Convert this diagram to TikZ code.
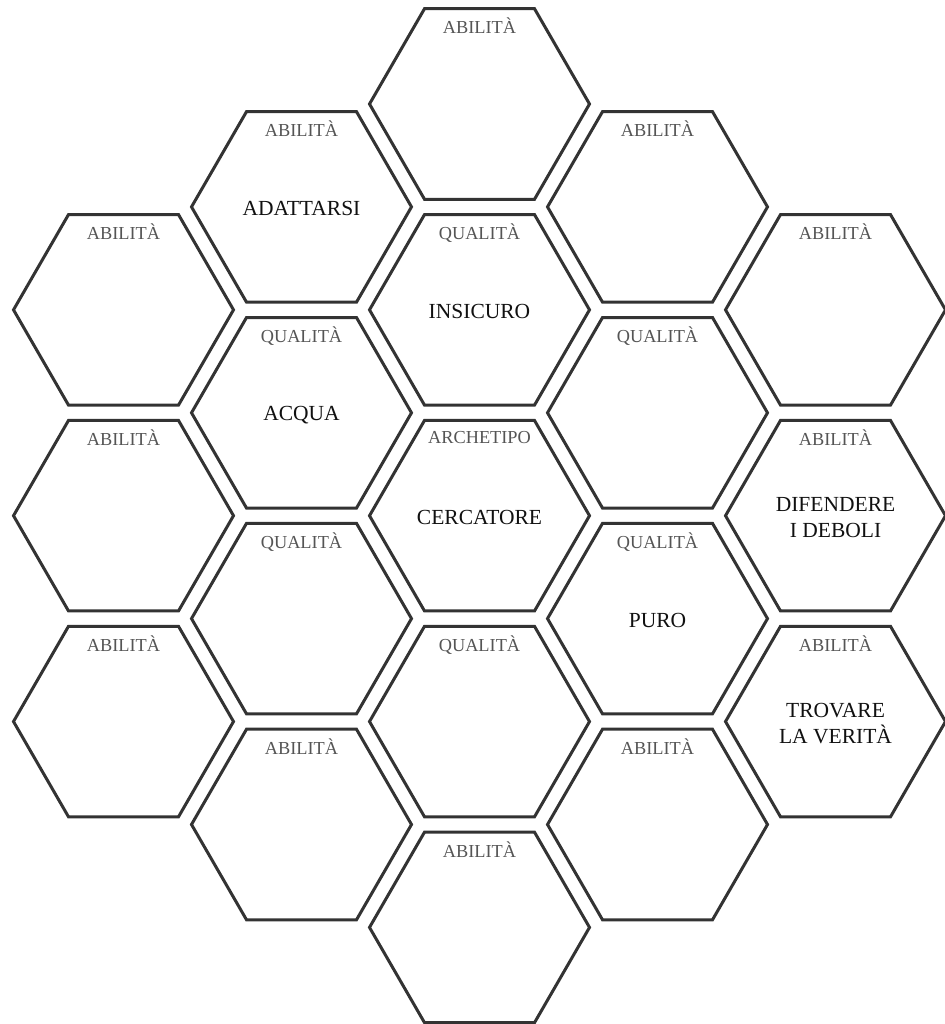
\documentclass[tikz,border=0pt]{standalone}
\usepackage{fontspec}
\setmainfont{Liberation Serif}
\usetikzlibrary{shapes.geometric,calc}
\definecolor{edgegrey}{HTML}{333333}
\definecolor{labgrey}{HTML}{555555}
\definecolor{wordblack}{HTML}{111111}
\begin{document}
\begin{tikzpicture}[x=1pt,y=-1pt,
  hexa/.style={regular polygon, regular polygon sides=6, minimum size=220pt,
    inner sep=0pt, outer sep=0pt, draw=edgegrey, line width=3pt, fill=white},
  tag/.style={anchor=base, text=labgrey, font=\fontsize{18.3}{21}\selectfont, inner sep=0pt},
  word/.style={anchor=center, align=center, text=wordblack, font=\fontsize{21.5}{25.5}\selectfont, inner sep=0pt}]
\useasboundingbox[fill=white] (0,0) rectangle (944,1024);
% column a
\node[hexa] (a1) at (123.5,309.85) {};
\node[hexa] (a2) at (123.5,515.7) {};
\node[hexa] (a3) at (123.5,721.55) {};
% column b
\node[hexa] (b1) at (301.5,206.9) {};
\node[hexa] (b2) at (301.5,412.8) {};
\node[hexa] (b3) at (301.5,618.6) {};
\node[hexa] (b4) at (301.5,824.5) {};
% column c
\node[hexa] (c1) at (479.5,104) {};
\node[hexa] (c2) at (479.5,309.85) {};
\node[hexa] (c3) at (479.5,515.7) {};
\node[hexa] (c4) at (479.5,721.55) {};
\node[hexa] (c5) at (479.5,927.4) {};
% column d
\node[hexa] (d1) at (657.5,206.9) {};
\node[hexa] (d2) at (657.5,412.8) {};
\node[hexa] (d3) at (657.5,618.6) {};
\node[hexa] (d4) at (657.5,824.5) {};
% column e
\node[hexa] (e1) at (835.5,309.85) {};
\node[hexa] (e2) at (835.5,515.7) {};
\node[hexa] (e3) at (835.5,721.55) {};
% small labels
\node[tag] (a1t) at ($(a1)+(0,-70)$) {ABILITÀ};
\node[tag] (a2t) at ($(a2)+(0,-70)$) {ABILITÀ};
\node[tag] (a3t) at ($(a3)+(0,-70)$) {ABILITÀ};
\node[tag] (b1t) at ($(b1)+(0,-70)$) {ABILITÀ};
\node[tag] (b2t) at ($(b2)+(0,-70)$) {QUALITÀ};
\node[tag] (b3t) at ($(b3)+(0,-70)$) {QUALITÀ};
\node[tag] (b4t) at ($(b4)+(0,-70)$) {ABILITÀ};
\node[tag] (c1t) at ($(c1)+(0,-70)$) {ABILITÀ};
\node[tag] (c2t) at ($(c2)+(0,-70)$) {QUALITÀ};
\node[tag] (c3t) at ($(c3)+(0,-72)$) {ARCHETIPO};
\node[tag] (c4t) at ($(c4)+(0,-70)$) {QUALITÀ};
\node[tag] (c5t) at ($(c5)+(0,-70)$) {ABILITÀ};
\node[tag] (d1t) at ($(d1)+(0,-70)$) {ABILITÀ};
\node[tag] (d2t) at ($(d2)+(0,-70)$) {QUALITÀ};
\node[tag] (d3t) at ($(d3)+(0,-70)$) {QUALITÀ};
\node[tag] (d4t) at ($(d4)+(0,-70)$) {ABILITÀ};
\node[tag] (e1t) at ($(e1)+(0,-70)$) {ABILITÀ};
\node[tag] (e2t) at ($(e2)+(0,-70)$) {ABILITÀ};
\node[tag] (e3t) at ($(e3)+(0,-70)$) {ABILITÀ};
% main words
\node[word] (b1w) at ($(b1)+(0,2)$) {ADATTARSI};
\node[word] (b2w) at ($(b2)+(0,2)$) {ACQUA};
\node[word] (c2w) at ($(c2)+(0,2)$) {INSICURO};
\node[word] (c3w) at ($(c3)+(0,2)$) {CERCATORE};
\node[word] (d3w) at ($(d3)+(0,2)$) {PURO};
\node[word] (e2w) at ($(e2)+(0,2)$) {DIFENDERE\\I DEBOLI};
\node[word] (e3w) at ($(e3)+(0,2)$) {TROVARE\\LA VERITÀ};
\end{tikzpicture}
\end{document}
